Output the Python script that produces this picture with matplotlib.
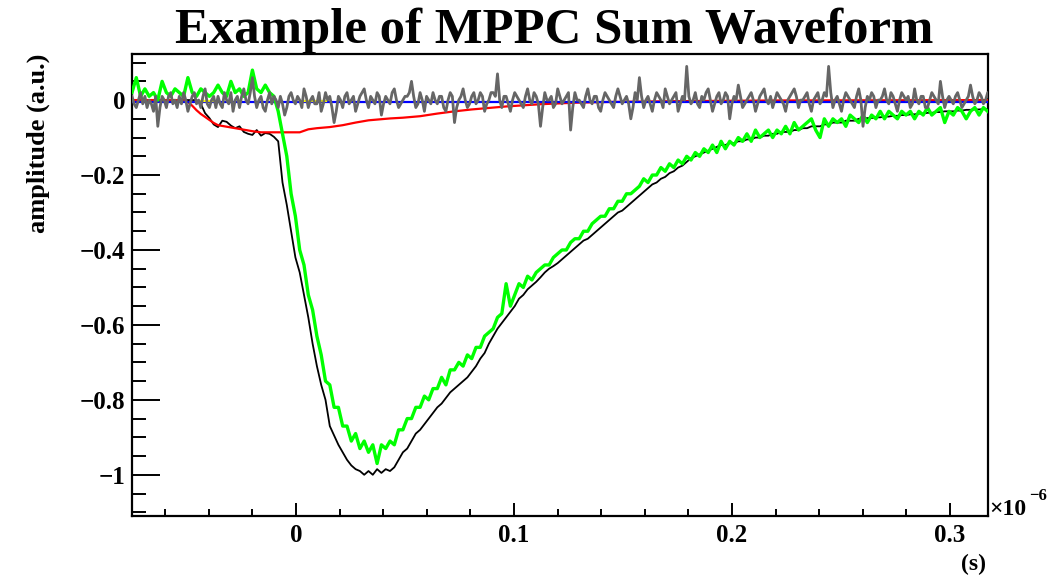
import numpy as np
import matplotlib
matplotlib.use("Agg")
import matplotlib.pyplot as plt
from matplotlib.ticker import MultipleLocator, FuncFormatter

# sampling of the traces, time in units of 1e-6 s
t_start = -0.07523
t_step = 0.0019725
n_samples = 200
# the grey noise trace is sampled twice as often
gray_step = t_step / 2

# amplitudes are written in units of 0.01 a.u.
# grey trace: baseline noise
noise_gray = [
    1, -1, -2, 0, 2, -1, 1, -2, 0, -1, -3, 1, -7, -2, 1, 0, -2, 1, 2, -1,
    0, -2, 1, -1, 2, 0, -3, -1, 1, 2, -1, 0, -2, 1, 3, -1, -2, 0, 1, -2,
    1, -1, -2, 2, 0, -1, 2, -3, 0, 1, -2, 1, 3, 0, -1, 2, 6, 1, -2, 0,
    1, -2, -3, 0, 2, -1, 1, 0, -2, 1, -1, -4, -2, 1, 2, 0, -1, 1, 0, -2,
    3, 1, -2, 0, 1, -1, -1, 2, -3, -1, 2, 0, 1, -2, -6, -3, 1, 0, -2, 1,
    2, -1, 0, 1, -3, -1, 1, 2, 3, 0, -2, 1, 0, -1, 2, 1, -4, -1, 1, 0,
    -1, 2, 3, 0, -2, -1, 0, 1, 1, 2, 5, 1, -2, -1, 2, 0, -3, 1, 0, -1,
    2, 0, -1, 1, 1, -2, -3, 0, 2, 1, -6, -2, 0, 1, 3, 0, -2, -1, 1, 2,
    -1, 0, 2, 1, -3, -1, 0, 2, 2, 1, 7, 0, -2, 1, 1, -1, -3, 0, 2, 1,
    0, -1, -2, 1, 3, 0, -1, 2, 1, -1, -7, -2, 2, 0, 0, 1, -2, -1, 3, 1,
    -1, 0, 1, 2, -8, -2, 2, 0, 0, -1, -2, 1, 3, 0, -1, 1, 1, -2, -3, 0,
    2, 1, 0, -1, -2, 1, 3, 1, -1, 0, 1, -1, -5, -2, 2, 0, 6, 1, -2, 0,
    1, -1, -3, 0, 2, 1, 0, -2, 3, 1, -1, 0, 1, 2, -3, -1, 1, 0, 9, 1,
    -1, 0, 2, -1, -2, 1, 0, 2, 3, 0, -3, -1, 1, 2, -1, 0, 2, 1, -5, -1,
    1, 0, 4, 1, -2, -1, 0, 1, 2, 0, -3, -1, 1, 2, 3, 0, -1, 1, -2, 0,
    2, 1, 0, -1, -3, 0, 1, 2, 3, 1, -2, 0, 0, 1, 2, -1, -3, 0, 1, 2,
    -1, 0, 2, 1, 9, 2, -2, 0, 1, -1, -3, 0, 2, 1, 0, -1, -2, 1, 3, 0,
    -7, -2, 1, 0, 2, 1, -2, 0, 0, 1, 3, 0, -1, 2, 1, -1, -3, 0, 2, 1,
    0, 1, -2, -1, 3, 0, -1, 1, 1, -2, -2, 0, 2, 1, 0, -1, 5, 1, -2, 0,
    1, 0, -1, 1, 2, 0, -2, -1, 0, 1, 4, 1, -1, 0, 2, 1, -1, 0, 2, 0,
]

# green trace: corrected sum waveform
sum_green = [
    2, 6, 1, 3, 1, 2, 0, 5, 2, 1,
    3, 2, 1, 6, 2, 1, 3, 2, 1, 2,
    4, 2, 1, 5, 2, 3, 1, 2, 8, 3,
    2, 4, 2, 1, -3, -9, -15, -25, -31, -40,
    -44, -52, -56, -63, -68, -75, -76, -82, -82, -87,
    -87, -91, -89, -93, -91, -94, -92, -97, -92, -93,
    -91, -92, -88, -88, -85, -85, -82, -82, -79, -80,
    -77, -77, -74, -76, -72, -72, -70, -71, -68, -69,
    -66, -66, -63, -62, -61, -58, -57, -49, -55, -52,
    -49, -50, -47, -48, -46, -45, -44, -44, -42, -41,
    -40, -40, -38, -37, -37, -35, -35, -33, -32, -31,
    -31, -29, -29, -27, -27, -25, -25, -24, -23, -21,
    -22, -20, -20, -18, -19, -17, -18, -16, -17, -15,
    -16, -14, -15, -13, -14, -12, -14, -11, -13, -11,
    -12, -10, -11, -9, -11, -8, -10, -9, -8, -10,
    -8, -9, -7, -9, -6, -8, -7, -6, -5, -8,
    -10, -5, -7, -5, -6, -5, -7, -4, -5, -6,
    -4, -6, -4, -5, -3, -5, -3, -4, -5, -3,
    -4, -3, -5, -3, -4, -2, -4, -3, -2, -6,
    -3, -4, -2, -3, -5, -3, -2, -4, -2, -3,
]

# black trace: raw sum waveform
sum_black = [
    0, 0, 0, 0, 0, 0, 0, 0, 0, 0,
    0, 0, 0, 0, 0, 0, -1, -3.5, -4.8, -6.5,
    -7.2, -5.5, -5.8, -6.8, -7.5, -7, -8.5, -9, -9.3, -8,
    -9.5, -8.8, -9, -9.8, -11, -22, -28, -35, -42, -46,
    -52, -58, -65, -71, -76, -80, -87, -89.5, -92, -94,
    -96, -97.5, -98.5, -99, -100, -99, -100, -98.5, -99.5, -98.5,
    -99, -98, -96, -94, -93, -91, -89, -88, -86.5, -85,
    -83.5, -82, -81, -79.5, -78, -77, -76, -75, -74, -72.5,
    -71, -69, -67.5, -65, -63, -61, -59.5, -58, -56.5, -55,
    -53, -52, -50.5, -49.5, -48.5, -47.3, -46, -45, -44.3, -43.5,
    -42.5, -41.5, -40.5, -39.5, -38.5, -37.5, -37, -36, -35, -34,
    -33, -32, -31, -30, -29.5, -28.5, -27.5, -26.5, -25.5, -24.5,
    -23.5, -22.5, -22, -21, -20.5, -19.5, -19, -18, -17.5, -16.5,
    -15.5, -15, -14.5, -14, -13.5, -13, -12.5, -12, -12, -11.5,
    -11.5, -11, -11, -10.5, -10.5, -10, -10, -9.5, -9.5, -9,
    -9, -8.5, -8.5, -8.5, -8, -8, -7.5, -7.5, -7, -7,
    -7, -6.5, -6.5, -6, -6, -6, -5.5, -5.5, -5.5, -5,
    -5, -4.8, -4.8, -4.6, -4.6, -4.4, -4.4, -4.2, -4.2, -4,
    -4, -3.8, -3.8, -3.6, -3.6, -3.4, -3.4, -3.2, -3.2, -3,
    -3, -3, -2.8, -2.8, -2.6, -2.6, -2.5, -2.5, -2.4, -2.4,
]

# red trace: slow component estimate (sample index -> amplitude)
red_idx = [0, 12, 13, 14, 15, 16, 17, 18, 19, 20,
           22, 25, 28, 30, 39, 40, 41, 43, 46, 49,
           52, 55, 58, 60, 63, 67, 71, 75, 79, 83,
           87, 91, 95, 99, 103, 111, 125, 150, 199]
red_val = [0, 0, -0.5, -1.5, -2.7, -3.7, -4.5, -5.3, -6.1, -6.7,
           -7.1, -7.7, -8.3, -8.6, -8.6, -8.2, -7.8, -7.5, -7.2, -6.7,
           -6.0, -5.4, -5.1, -4.9, -4.7, -4.3, -3.6, -3.0, -2.5, -2.1,
           -1.7, -1.4, -1.1, -0.9, -0.7, -0.5, -0.3, -0.1, 0]

# blue baseline and short yellow pieces
blue_idx = [0, 199]
blue_val = [-0.4, -0.4]
yellow_segments = [(16, 19), (40, 45)]
yellow_level = -0.3

x_lim = (-0.07523, 0.31743)
y_lim = (-1.11, 0.123)

plt.rcParams['font.family'] = ['Liberation Serif', 'DejaVu Serif']
plt.rcParams['font.weight'] = 'bold'

t = t_start + t_step * np.arange(n_samples)
t_gray = t_start + gray_step * np.arange(len(noise_gray))
scale = 0.01

fig = plt.figure(figsize=(10.64, 5.75), dpi=100)
ax = fig.add_axes([132 / 1064, 1 - 516 / 575, 856 / 1064, 462 / 575])

ax.plot(t, np.array(sum_black) * scale, color='black', lw=1.3, zorder=2)
ax.plot(t_start + t_step * np.array(red_idx), np.array(red_val) * scale,
        color='#ff0000', lw=1.6, zorder=3)
ax.plot(t_start + t_step * np.array(blue_idx), np.array(blue_val) * scale,
        color='#0000ff', lw=1.6, zorder=3)
for a, b in yellow_segments:
    ax.plot(t_start + t_step * np.array([a, b]), [yellow_level * scale] * 2,
            color='#ffff00', lw=1.6, zorder=3)
ax.plot(t, np.array(sum_green) * scale, color='#00ff00', lw=2.4, zorder=4)
ax.plot(t_gray, np.array(noise_gray) * scale, color='#666666', lw=2.0, zorder=5)

ax.set_xlim(*x_lim)
ax.set_ylim(*y_lim)


def fmt(v, pos):
    if abs(v) < 1e-9:
        return '0'
    s = f'{v:.1f}'
    if s.endswith('.0'):
        s = s[:-2]
    return s.replace('-', '\u2212')


ax.xaxis.set_major_locator(MultipleLocator(0.1))
ax.xaxis.set_minor_locator(MultipleLocator(0.02))
ax.yaxis.set_major_locator(MultipleLocator(0.2))
ax.yaxis.set_minor_locator(MultipleLocator(0.05))
ax.xaxis.set_major_formatter(FuncFormatter(fmt))
ax.yaxis.set_major_formatter(FuncFormatter(fmt))

ax.tick_params(axis='y', which='major', direction='in', length=20, width=1.4,
               labelsize=18, pad=5, right=False)
ax.tick_params(axis='y', which='minor', direction='in', length=10, width=1.4,
               right=False)
ax.tick_params(axis='x', which='major', direction='in', length=9.5, width=1.4,
               labelsize=18, pad=6, top=False)
ax.tick_params(axis='x', which='minor', direction='in', length=5, width=1.4,
               top=False)
for sp in ax.spines.values():
    sp.set_linewidth(1.6)

# titles and axis labels
fig.text(554 / 1064, 1 - 43 / 575, 'Example of MPPC Sum Waveform',
         fontsize=36.5, fontweight='bold', ha='center', va='baseline')
fig.text(38 / 1064, 1 - 54 / 575, 'amplitude (a.u.)', fontsize=19,
         fontweight='bold', rotation=90, ha='center', va='top')
fig.text(986 / 1064, 1 - 570 / 575, '(s)', fontsize=17, fontweight='bold',
         ha='right', va='baseline')
fig.text(989 / 1064, 1 - 515 / 575, '\u00d710', fontsize=17,
         ha='left', va='baseline')
fig.text(1029 / 1064, 1 - 500 / 575, '\u22126', fontsize=12,
         ha='left', va='baseline')

fig.savefig('out.png', dpi=100)
